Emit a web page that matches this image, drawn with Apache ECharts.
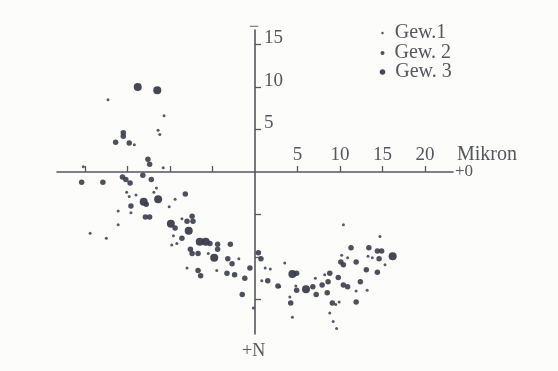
<!DOCTYPE html>
<html>
<head>
<meta charset="utf-8">
<script src="https://cdn.jsdelivr.net/npm/echarts@6/dist/echarts.min.js"></script>
<style>
html,body{margin:0;padding:0;background:#fcfcfa;}
#c{width:558px;height:371px;}
</style>
</head>
<body>
<div id="c"></div>
<script>
// Tick values (Mikron)
const xTicks = [-20, -15, -10, -5, 5, 10, 15, 20];
const xTickLabels = [5, 10, 15, 20];
const yTicks = [-15, -10, -5, 5, 10, 15];
const yTickLabels = [5, 10, 15];

const seriesNames = ['Gew.1', 'Gew. 2', 'Gew. 3'];

// Gew.1 (small dots): [x, y]
const gew1 = [
  [-17.3, 8.5], [-10.7, 6.6], [-11.4, 4.9], [-11.2, 4.4], [-14.2, 3.2], [-10.8, 0.5],
  [-20.2, 0.6], [-15.1, -2.4], [-14.8, -2.9], [-14.0, -2.7], [-11.6, -1.9], [-11.9, -2.4],
  [-9.4, -3.2], [-16.1, -4.6], [-14.6, -4.8], [-10.1, -4.1], [-16.1, -6.2], [-19.4, -7.2],
  [-17.5, -7.8], [-8.6, -5.5], [-9.6, -7.5], [-9.8, -8.6], [-9.2, -8.4], [-5.5, -9.6],
  [-1.9, -10.2], [-8.0, -11.3], [-4.5, -11.6], [-0.2, -16.0], [1.2, -11.3], [1.8, -11.4],
  [0.8, -12.8], [3.5, -10.7], [2.9, -13.5], [4.8, -13.4], [7.1, -12.5], [8.2, -12.1],
  [10.2, -9.8], [10.9, -10.1], [11.9, -14.0], [13.2, -13.9], [13.3, -9.9], [13.8, -10.1],
  [14.7, -7.6], [15.3, -10.9], [4.1, -14.7], [4.4, -17.1], [9.5, -15.6], [9.9, -15.3],
  [8.8, -16.6], [9.2, -17.6], [9.6, -18.4], [10.4, -6.2]
];

// Gew. 2 (medium dots)
const gew2 = [
  [-15.5, 4.6], [-15.5, 4.2], [-16.4, 3.5], [-14.8, 3.4], [-12.6, 1.5], [-12.4, 0.9],
  [-20.4, -1.2], [-17.9, -1.2], [-15.6, -0.6], [-15.2, -0.9], [-14.7, -1.3], [-13.2, -0.4],
  [-12.2, -0.9], [-12.8, -3.8], [-14.6, -4.0], [-8.2, -2.6], [-12.9, -5.3], [-12.4, -5.3],
  [-9.4, -6.6], [-8.0, -5.8], [-7.3, -5.8], [-7.4, -5.2], [-8.6, -7.8], [-5.3, -8.4],
  [-4.4, -8.5], [-4.4, -9.1], [-2.9, -8.5], [-7.6, -9.1], [-7.4, -9.6], [-6.7, -9.6],
  [-3.2, -10.2], [-2.7, -10.8], [-0.6, -11.3], [-6.7, -11.6], [-6.4, -12.2], [-3.3, -11.9],
  [-2.4, -12.1], [-1.2, -12.5], [-1.5, -14.4], [0.4, -9.5], [0.7, -10.2], [1.5, -12.8],
  [2.7, -13.4], [4.9, -11.9], [4.9, -13.9], [6.8, -13.5], [7.2, -14.4], [7.9, -13.3],
  [8.5, -14.2], [8.8, -11.9], [8.6, -12.9], [9.8, -12.4], [10.1, -10.6], [10.4, -10.9],
  [11.3, -8.9], [10.4, -13.3], [10.9, -13.5], [11.9, -10.6], [12.4, -12.9], [13.1, -11.5],
  [13.4, -8.9], [14.4, -11.8], [14.6, -10.2], [14.4, -9.3], [14.9, -9.3], [4.2, -15.4],
  [9.1, -15.4], [11.9, -15.3]
];

// Gew. 3 (large dots)
const gew3 = [
  [-13.8, 10.0], [-11.5, 9.6], [-11.4, -3.2], [-13.1, -3.5], [-9.9, -6.1], [-7.8, -6.9],
  [-6.5, -8.2], [-5.8, -8.2], [-4.8, -10.1], [4.4, -12.0], [6.0, -13.8], [16.2, -9.9]
];

const dotColor = '#3b3d4b';
const inkColor = '#55565f';
const serif = '"Liberation Serif", "DejaVu Serif", serif';

const chart = echarts.init(document.getElementById('c'), null, {renderer: 'canvas'});

function legendFor(name, top, size, padBottom, padLeft) {
  return {
    data: [name],
    orient: 'vertical',
    left: 382.5 - size / 2,
    top: top,
    padding: 0,
    itemWidth: size,
    itemHeight: size,
    icon: 'circle',
    selectedMode: false,
    textStyle: {
      fontFamily: serif, fontSize: 20, lineHeight: 20, color: inkColor,
      padding: [0, 0, padBottom, padLeft]
    }
  };
}

chart.setOption({
  backgroundColor: '#fcfcfa',
  animation: false,
  grid: {left: 57, right: 105, top: 30, bottom: 37, containLabel: false},
  legend: [
    legendFor(seriesNames[0], 14, 2.5, 18, 6),
    legendFor(seriesNames[1], 38.5, 4, 9, 5),
    legendFor(seriesNames[2], 60, 5.5, 4, 5)
  ],
  xAxis: {
    type: 'value',
    min: -23.3, max: 23.3,
    position: 'bottom',
    offset: 0,
    axisLine: {onZero: false, lineStyle: {color: inkColor, width: 1.6}},
    axisTick: {show: true, inside: true, length: 6, customValues: xTicks, lineStyle: {color: inkColor, width: 1.3}},
    axisLabel: {
      inside: true, customValues: xTickLabels, margin: 17, verticalAlign: 'middle',
      fontFamily: serif, fontSize: 19, color: inkColor
    },
    splitLine: {show: false}
  },
  yAxis: {
    type: 'value',
    min: -19.06, max: 16.7,
    position: 'left',
    offset: 0,
    axisLine: {onZero: false, lineStyle: {color: inkColor, width: 1.6}},
    axisTick: {show: true, inside: true, length: 6, customValues: yTicks, lineStyle: {color: inkColor, width: 1.3}},
    axisLabel: {
      inside: true, customValues: yTickLabels, margin: 9, verticalAlign: 'bottom', align: 'left',
      lineHeight: 12,
      fontFamily: serif, fontSize: 19, color: inkColor
    },
    splitLine: {show: false}
  },
  graphic: [
    {type: 'text', left: 249, top: 18, style: {text: '−', font: '18px ' + serif, fill: inkColor}},
    {type: 'text', left: 457, top: 145, style: {text: 'Mikron', font: '20px ' + serif, fill: inkColor}},
    {type: 'text', left: 455, top: 163, style: {text: '+0', font: '17px ' + serif, fill: inkColor}},
    {type: 'text', left: 242, top: 342, style: {text: '+N', font: '18px ' + serif, fill: inkColor}}
  ],
  series: [
    {name: seriesNames[0], type: 'scatter', data: gew1, symbolSize: 3,
     itemStyle: {color: dotColor, opacity: 0.85}},
    {name: seriesNames[1], type: 'scatter', data: gew2, symbolSize: 5.5,
     itemStyle: {color: dotColor, opacity: 0.9}},
    {name: seriesNames[2], type: 'scatter', data: gew3, symbolSize: 8,
     itemStyle: {color: dotColor, opacity: 0.95}}
  ]
});

// Move both axes onto the origin, located through the library's own scales.
const origin = chart.convertToPixel({gridIndex: 0}, [0, 0]);
const gridRect = chart.getModel().getComponent('grid', 0).coordinateSystem.getRect();
chart.setOption({
  xAxis: {offset: origin[1] - (gridRect.y + gridRect.height)},
  yAxis: {offset: gridRect.x - origin[0]}
});
</script>
</body>
</html>
